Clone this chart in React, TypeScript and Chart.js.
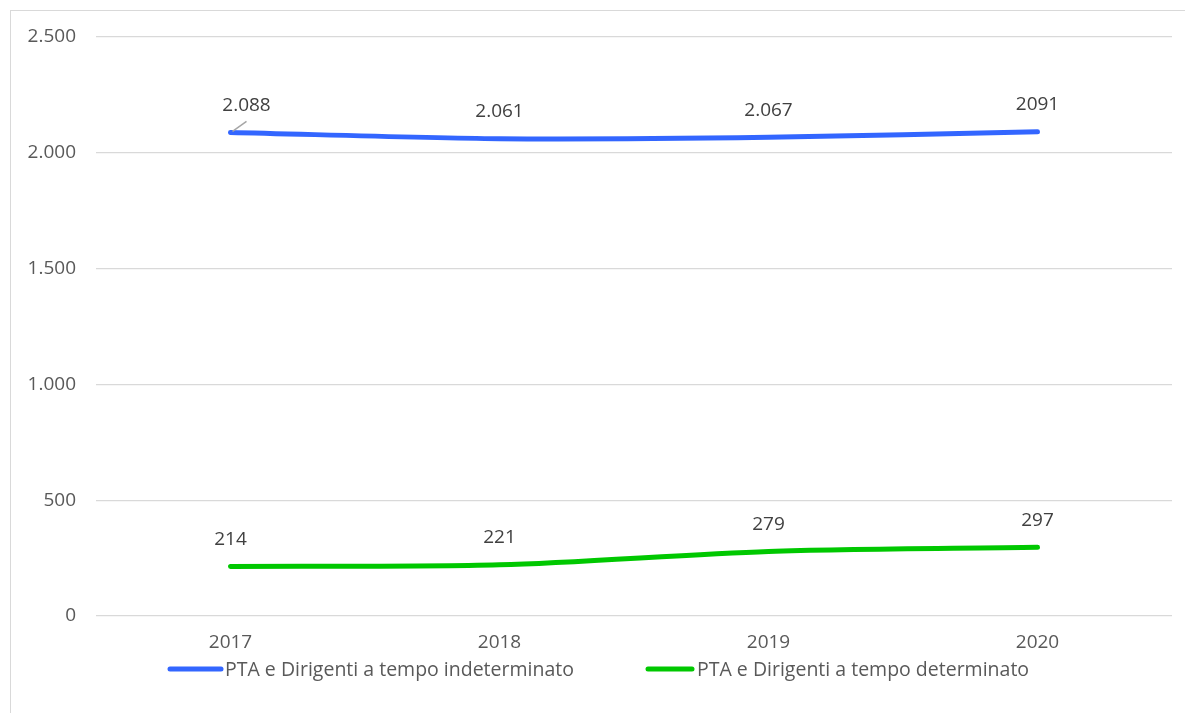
import React, { useEffect, useRef } from "react";
import { Chart, registerables } from "chart.js";

Chart.register(...registerables);

const categories = ["2017", "2018", "2019", "2020"];
const seriesNames = [
  "PTA e Dirigenti a tempo indeterminato",
  "PTA e Dirigenti a tempo determinato",
];
const indeterminato = [2088, 2061, 2067, 2091];
const determinato = [214, 221, 279, 297];
const labelsIndeterminato = ["2.088", "2.061", "2.067", "2091"];
const labelsDeterminato = ["214", "221", "279", "297"];
const yMin = 0;
const yMax = 2500;
const yStep = 500;

const BLUE = "#3366ff";
const GREEN = "#00c800";
const TEXT = "#595959";
const FONT = "'Open Sans', 'Liberation Sans', sans-serif";

function fmtThousands(v: number): string {
  const s = String(Math.round(v));
  return s.replace(/\B(?=(\d{3})+(?!\d))/g, ".");
}

const valueLabelPlugin = {
  id: "valueLabels",
  afterDatasetsDraw(chart: any) {
    const ctx = chart.ctx;
    const allLabels = [labelsIndeterminato, labelsDeterminato];
    ctx.save();
    ctx.font = `19px ${FONT}`;
    ctx.fillStyle = "#404040";
    ctx.textAlign = "center";
    ctx.textBaseline = "middle";
    chart.data.datasets.forEach((_: any, di: number) => {
      const meta = chart.getDatasetMeta(di);
      meta.data.forEach((pt: any, i: number) => {
        let dx = 0;
        if (di === 0 && i === 0) {
          dx = 16;
          ctx.save();
          ctx.strokeStyle = "#a6a6a6";
          ctx.lineWidth = 1.5;
          ctx.beginPath();
          ctx.moveTo(pt.x + 2, pt.y - 1);
          ctx.lineTo(pt.x + 16, pt.y - 11);
          ctx.stroke();
          ctx.restore();
        }
        ctx.fillText(allLabels[di][i], pt.x + dx, pt.y - 27);
      });
    });
    ctx.restore();
  },
};

const legendPlugin = {
  id: "customLegend",
  afterDraw(chart: any) {
    const ctx = chart.ctx;
    const items = [
      { x0: 159, x1: 210, tx: 214 },
      { x0: 637, x1: 681, tx: 686 },
    ];
    const y = 658;
    ctx.save();
    ctx.font = `19.5px ${FONT}`;
    ctx.textAlign = "left";
    ctx.textBaseline = "middle";
    chart.data.datasets.forEach((ds: any, i: number) => {
      const it = items[i];
      ctx.strokeStyle = ds.borderColor;
      ctx.lineWidth = 5;
      ctx.lineCap = "round";
      ctx.beginPath();
      ctx.moveTo(it.x0, y);
      ctx.lineTo(it.x1, y);
      ctx.stroke();
      ctx.fillStyle = TEXT;
      ctx.fillText(ds.label, it.tx, y + 1);
    });
    ctx.restore();
  },
};

export default function App() {
  const ref = useRef<HTMLCanvasElement | null>(null);

  useEffect(() => {
    if (!ref.current) return;
    const chart = new Chart(ref.current, {
      type: "line",
      data: {
        labels: categories,
        datasets: [
          {
            label: seriesNames[0],
            data: indeterminato,
            borderColor: BLUE,
            backgroundColor: BLUE,
            borderWidth: 5,
            pointRadius: 0,
            tension: 0.3,
            borderCapStyle: "round",
          },
          {
            label: seriesNames[1],
            data: determinato,
            borderColor: GREEN,
            backgroundColor: GREEN,
            borderWidth: 5,
            pointRadius: 0,
            tension: 0.3,
            borderCapStyle: "round",
          },
        ],
      },
      options: {
        animation: false,
        responsive: false,
        maintainAspectRatio: false,
        layout: { padding: { left: 0, right: 13, top: 26, bottom: 47 } },
        plugins: {
          legend: { display: false },
          tooltip: { enabled: false },
          title: { display: false },
        },
        scales: {
          x: {
            offset: true,
            grid: { display: false, drawTicks: false },
            border: { display: false },
            ticks: {
              color: TEXT,
              font: { family: FONT, size: 19 },
              padding: 15,
            },
            afterFit(scale: any) {
              scale.height = 50;
              scale.paddingLeft = 0;
              scale.paddingRight = 0;
            },
          },
          y: {
            min: yMin,
            max: yMax,
            grid: { color: "#d9d9d9", lineWidth: 1.3, drawTicks: false },
            border: { display: false },
            ticks: {
              stepSize: yStep,
              color: TEXT,
              font: { family: FONT, size: 19 },
              padding: 20,
              callback: (v: any) => fmtThousands(Number(v)),
            },
            afterFit(scale: any) {
              scale.width = 85;
              scale.paddingTop = 0;
              scale.paddingBottom = 0;
            },
          },
        },
      },
      plugins: [valueLabelPlugin, legendPlugin],
    });
    return () => chart.destroy();
  }, []);

  return (
    <div
      style={{
        position: "absolute",
        left: 10,
        top: 10,
        width: 1190,
        height: 720,
        border: "1px solid #d9d9d9",
        background: "#fff",
      }}
    >
      <canvas ref={ref} width={1174} height={702} style={{ display: "block" }} />
    </div>
  );
}
